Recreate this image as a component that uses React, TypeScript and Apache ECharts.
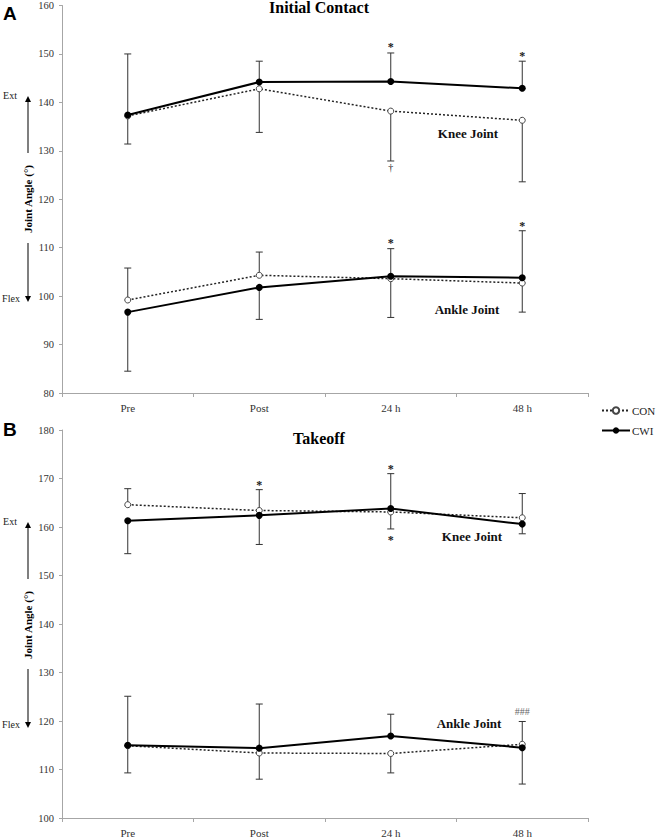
import React, { useEffect, useRef } from 'react';
import * as echarts from 'echarts';

// ---------- data ----------
const categories = ['Pre', 'Post', '24 h', '48 h'];
const panelTitles = ['Initial Contact', 'Takeoff'];
const panelLetters = ['A', 'B'];
const yAxisName = 'Joint Angle (°)';
const yRanges = [
  [80, 160],
  [100, 180],
];
const yInterval = 10;

// Initial contact
const icKneeCON = [137.2, 142.8, 138.2, 136.3];
const icKneeCWI = [137.4, 144.2, 144.3, 142.9];
const icKneeCWIsd = [12.6, 4.3, 5.9, 5.6]; // drawn upward
const icKneeCONsd = [5.8, 9.0, 10.3, 12.7]; // drawn downward
const icAnkleCON = [99.2, 104.3, 103.6, 102.7];
const icAnkleCWI = [96.7, 101.8, 104.1, 103.8];
const icAnkleCONsd = [6.6, 4.8, 6.2, 10.8]; // upward
const icAnkleCWIsd = [12.2, 6.6, 8.5, 7.1]; // downward

// Takeoff
const toKneeCON = [164.6, 163.4, 163.1, 161.9];
const toKneeCWI = [161.3, 162.4, 163.8, 160.6];
const toKneeCONsd = [3.3, 4.3, 7.9, 5.0]; // upward
const toKneeCWIsd = [6.8, 6.0, 4.2, 2.0]; // downward
const toAnkleCON = [114.9, 113.4, 113.3, 115.2];
const toAnkleCWI = [115.0, 114.4, 116.9, 114.5];
const toAnkleCWIsd = [10.1, 9.1, 4.5, 5.4]; // upward
const toAnkleCONsd = [5.6, 5.4, 4.0, 8.2]; // downward

// significance marks: [category index, value, text]
const icMarks: [number, number, string][] = [
  [2, 152.0, '*'],
  [3, 150.0, '*'],
  [2, 126.6, '†'],
  [2, 111.4, '*'],
  [3, 115.0, '*'],
];
const toMarks: [number, number, string][] = [
  [1, 169.1, '*'],
  [2, 172.4, '*'],
  [2, 157.9, '*'],
  [3, 121.9, '###'],
];

// ---------- layout ----------
const SERIF = '"Liberation Serif", "Times New Roman", serif';
const grids = [
  { left: 62, top: 5, width: 526, height: 388 },
  { left: 62, top: 430, width: 526, height: 390 },
];

const errRows = (means: number[], sds: number[], dir: number) =>
  means.map((m, i) => [i, m, +(m + dir * sds[i]).toFixed(2)]);

export default function App() {
  const ref = useRef<HTMLDivElement>(null);
  useEffect(() => {
    if (!ref.current) return;
    const chart = echarts.init(ref.current, undefined, { renderer: 'svg' });

    const panels = [
      {
        kneeCON: icKneeCON, kneeCWI: icKneeCWI, ankleCON: icAnkleCON, ankleCWI: icAnkleCWI,
        errs: [
          ...errRows(icKneeCWI, icKneeCWIsd, 1),
          ...errRows(icKneeCON, icKneeCONsd, -1),
          ...errRows(icAnkleCON, icAnkleCONsd, 1),
          ...errRows(icAnkleCWI, icAnkleCWIsd, -1),
        ],
        marks: icMarks,
      },
      {
        kneeCON: toKneeCON, kneeCWI: toKneeCWI, ankleCON: toAnkleCON, ankleCWI: toAnkleCWI,
        errs: [
          ...errRows(toKneeCON, toKneeCONsd, 1),
          ...errRows(toKneeCWI, toKneeCWIsd, -1),
          ...errRows(toAnkleCWI, toAnkleCWIsd, 1),
          ...errRows(toAnkleCON, toAnkleCONsd, -1),
        ],
        marks: toMarks,
      },
    ];

    const conStyle = (p: number, data: number[]) => ({
      type: 'line',
      name: 'CON',
      xAxisIndex: p,
      yAxisIndex: p,
      data,
      symbol: 'circle',
      symbolSize: 6,
      z: 3,
      lineStyle: { color: '#222', width: 1.5, type: [2, 2] },
      itemStyle: { color: '#fff', borderColor: '#444', borderWidth: 1 },
    });
    const cwiStyle = (p: number, data: number[]) => ({
      type: 'line',
      name: 'CWI',
      xAxisIndex: p,
      yAxisIndex: p,
      data,
      symbol: 'circle',
      symbolSize: 7,
      z: 4,
      lineStyle: { color: '#000', width: 2 },
      itemStyle: { color: '#000' },
    });

    const series: any[] = [];
    panels.forEach((pd, p) => {
      series.push({
        type: 'custom',
        xAxisIndex: p,
        yAxisIndex: p,
        data: pd.errs,
        z: 2,
        silent: true,
        itemStyle: { color: '#333' },
        encode: { x: 0, y: [1, 2] },
        renderItem: (params: any, api: any) => {
          const x = api.value(0);
          const p1 = api.coord([x, api.value(1)]);
          const p2 = api.coord([x, api.value(2)]);
          return {
            type: 'group',
            children: [
              { type: 'line', shape: { x1: p1[0], y1: p1[1], x2: p2[0], y2: p2[1] }, style: { stroke: '#333', lineWidth: 1 } },
              { type: 'line', shape: { x1: p2[0] - 3.5, y1: p2[1], x2: p2[0] + 3.5, y2: p2[1] }, style: { stroke: '#333', lineWidth: 1 } },
            ],
          };
        },
      });
      series.push(conStyle(p, pd.kneeCON));
      series.push(cwiStyle(p, pd.kneeCWI));
      series.push(conStyle(p, pd.ankleCON));
      series.push(cwiStyle(p, pd.ankleCWI));
      const marks = pd.marks;
      series.push({
        type: 'custom',
        xAxisIndex: p,
        yAxisIndex: p,
        data: marks.map((m) => [m[0], m[1]]),
        z: 5,
        silent: true,
        itemStyle: { color: '#1a1a1a' },
        encode: { x: 0, y: 1 },
        renderItem: (params: any, api: any) => {
          const pt = api.coord([api.value(0), api.value(1)]);
          const txt = marks[params.dataIndex][2];
          const star = txt === '*';
          const col = txt === '###' ? '#666' : '#1a1a1a';
          return {
            type: 'text',
            x: pt[0],
            y: pt[1] + (star ? 2.5 : 0),
            style: {
              text: txt,
              font: `${star ? 'bold 12px' : '10px'} ${SERIF}`,
              fill: col,
              align: 'center',
              verticalAlign: 'middle',
            },
          };
        },
      });
    });

    const axisColor = '#a6a6a6';
    const xAxes = grids.map((_, p) => ({
      type: 'category',
      gridIndex: p,
      data: categories,
      boundaryGap: true,
      axisLine: { lineStyle: { color: axisColor, width: 1 } },
      axisTick: { show: true, length: 4, lineStyle: { color: axisColor } },
      axisLabel: { fontFamily: SERIF, fontSize: 11, color: '#333', margin: 9 },
      splitLine: { show: false },
    }));
    const yAxes = grids.map((_, p) => ({
      type: 'value',
      gridIndex: p,
      min: yRanges[p][0],
      max: yRanges[p][1],
      interval: yInterval,
      axisLine: { show: true, lineStyle: { color: axisColor, width: 1 } },
      axisTick: { show: true, length: 3, lineStyle: { color: axisColor } },
      axisLabel: { fontFamily: SERIF, fontSize: 10.5, color: '#333', margin: 8 },
      splitLine: { show: false },
    }));

    const graphic: any[] = [];
    grids.forEach((g, p) => {
      const cy = g.top + g.height / 2;
      graphic.push({
        type: 'text', x: 3, y: p === 0 ? 13 : 429,
        style: { text: panelLetters[p], font: 'bold 19px "Liberation Sans", Arial, sans-serif', fill: '#000', align: 'left', verticalAlign: 'middle' },
      });
      graphic.push({
        type: 'text', x: 319, y: p === 0 ? 7 : 438,
        style: { text: panelTitles[p], font: `bold 16px ${SERIF}`, fill: '#000', align: 'center', verticalAlign: 'middle' },
      });
      // y-axis name
      graphic.push({
        type: 'text', x: 28, y: cy, rotation: Math.PI / 2,
        style: { text: yAxisName, font: `bold 11px ${SERIF}`, fill: '#000', align: 'center', verticalAlign: 'middle' },
      });
      // arrows
      const ax = 28;
      const extTip = cy - 103, extTail = cy - 46;
      const flexTail = cy + 44, flexTip = cy + 103;
      graphic.push({ type: 'line', shape: { x1: ax, y1: extTail, x2: ax, y2: extTip + 5 }, style: { stroke: '#555', lineWidth: 1.5 } });
      graphic.push({ type: 'polygon', shape: { points: [[ax - 3, extTip + 6], [ax + 3, extTip + 6], [ax, extTip]] }, style: { fill: '#000' } });
      graphic.push({ type: 'line', shape: { x1: ax, y1: flexTail, x2: ax, y2: flexTip - 5 }, style: { stroke: '#555', lineWidth: 1.5 } });
      graphic.push({ type: 'polygon', shape: { points: [[ax - 3, flexTip - 6], [ax + 3, flexTip - 6], [ax, flexTip]] }, style: { fill: '#000' } });
      graphic.push({
        type: 'text', x: 10, y: extTip - 1,
        style: { text: 'Ext', font: `10px ${SERIF}`, fill: '#222', align: 'center', verticalAlign: 'middle' },
      });
      graphic.push({
        type: 'text', x: 11, y: flexTip - 4,
        style: { text: 'Flex', font: `10px ${SERIF}`, fill: '#222', align: 'center', verticalAlign: 'middle' },
      });
    });
    const jointLabels: [number, number, string][] = [
      [468, 133, 'Knee Joint'],
      [467, 309, 'Ankle Joint'],
      [472, 536, 'Knee Joint'],
      [469, 723, 'Ankle Joint'],
    ];
    jointLabels.forEach(([x, y, t]) => {
      graphic.push({
        type: 'text', x, y,
        style: { text: t, font: `bold 13px ${SERIF}`, fill: '#111', align: 'center', verticalAlign: 'middle' },
      });
    });

    chart.setOption({
      animation: false,
      backgroundColor: '#fff',
      grid: grids.map((g) => ({ ...g, containLabel: false })),
      xAxis: xAxes,
      yAxis: yAxes,
      legend: {
        data: ['CON', 'CWI'],
        orient: 'vertical',
        left: 601,
        top: 405,
        itemWidth: 28,
        itemHeight: 8,
        itemGap: 9,
        textStyle: { fontFamily: SERIF, fontSize: 11, color: '#222', padding: [0, 0, 0, -3] },
        selectedMode: false,
        padding: 0,
      },
      series,
      graphic,
    });
    return () => chart.dispose();
  }, []);
  return <div ref={ref} style={{ position: 'absolute', left: 0, top: 0, width: 661, height: 838 }} />;
}
